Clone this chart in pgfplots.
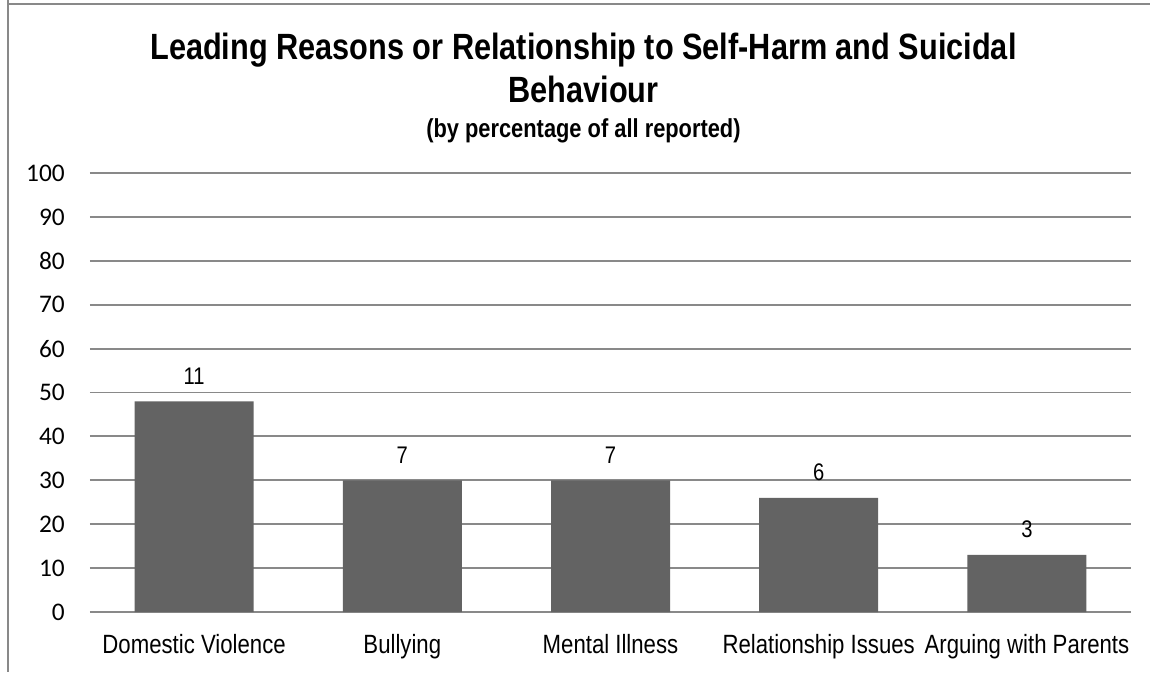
\documentclass[border=0pt]{standalone}
\usepackage{pgfplots}
\pgfplotsset{compat=1.18}
\usepackage{pgfplotstable}
\usepackage{fontspec}
\setmainfont{Liberation Sans}[FakeStretch=0.84]
\newfontfamily\calib{Carlito}
\definecolor{barc}{RGB}{99,99,99}
\definecolor{gridc}{RGB}{137,137,137}

\pgfplotstableread{
x y lab
0 48 11
1 30 7
2 30 7
3 26 6
4 13 3
}\datatab

\begin{document}
\begin{tikzpicture}
\useasboundingbox (0,0) rectangle (862.5pt,-504pt);
\draw[gridc, line width=1.5pt] (5.8pt,0) -- (5.8pt,-504pt);
\draw[gridc, line width=1.2pt] (5.8pt,-2.9pt) -- (862.5pt,-2.9pt);
\node[anchor=base, inner sep=0pt, font=\bfseries\fontsize{27.4}{30}\selectfont] at (437.6pt,-44.5pt) {Leading Reasons or Relationship to Self-Harm and Suicidal};
\node[anchor=base, inner sep=0pt, font=\bfseries\fontsize{27.4}{30}\selectfont] at (437.6pt,-76.5pt) {Behaviour};
\node[anchor=base, inner sep=0pt, font=\bfseries\fontsize{19.5}{22}\selectfont] at (437.6pt,-102.75pt) {(by percentage of all reported)};
\begin{axis}[
  at={(67.5pt,-459pt)}, anchor=south west,
  width=780.75pt, height=329.25pt, scale only axis,
  ymin=0, ymax=100, ytick={0,10,...,100},
  xmin=-0.5, xmax=4.5, xtick={0,1,2,3,4},
  xticklabels={Domestic Violence, Bullying, Mental Illness, Relationship Issues, Arguing with Parents},
  axis line style={draw=none},
  major tick length=0pt,
  ymajorgrids, grid style={gridc, line width=1.4pt},
  /pgf/number format/assume math mode=true,
  yticklabel style={font=\calib\fontsize{19}{21}\selectfont, anchor=east, inner sep=0pt, xshift=-18.75pt},
  xticklabel style={font=\fontsize{19.8}{22}\selectfont, anchor=base, inner sep=0pt, yshift=-30.75pt},
  ybar, bar width=89.25pt,
  nodes near coords={\pgfplotspointmeta},
  point meta=explicit symbolic,
  every node near coord/.append style={anchor=base, inner sep=0pt, yshift=12.75pt, font=\fontsize{18}{20}\selectfont, text=black},
]
\addplot[fill=barc, draw=none] table[x=x, y=y, meta=lab] {\datatab};
\end{axis}
\end{tikzpicture}
\end{document}
